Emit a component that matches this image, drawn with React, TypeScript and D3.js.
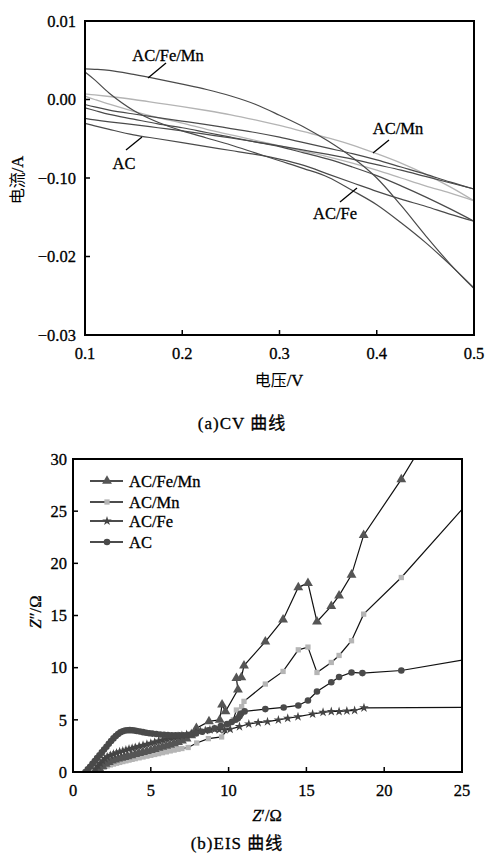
import React from "react";
import * as d3 from "d3";

// ---------- CV data (V, A) ----------
const cvV = [0.1, 0.11, 0.125, 0.15, 0.175, 0.2, 0.225, 0.25, 0.275, 0.3, 0.325, 0.35, 0.375, 0.4, 0.425, 0.45, 0.475, 0.5];
const feMnUpper = [3.9, 3.85, 3.72, 3.2, 2.6, 1.95, 1.27, 0.45, -0.6, -2.0, -3.5, -5.3, -7.4, -10.0, -13.5, -17.3, -20.9, -24.1];
const feMnLower = [3.5, 2.5, 0.8, -1.4, -2.9, -4.0, -4.9, -5.8, -6.8, -7.8, -8.8, -9.9, -11.6, -13.4, -15.7, -18.2, -21.0, -24.0];
const mnUpper = [0.72, 0.58, 0.38, 0.0, -0.45, -0.9, -1.4, -1.95, -2.6, -3.3, -4.1, -4.9, -5.8, -6.9, -8.1, -9.5, -11.1, -12.9];
const mnLower = [0.42, 0.0, -0.6, -1.5, -2.3, -3.0, -3.8, -4.5, -5.2, -5.9, -6.6, -7.3, -8.1, -9.0, -10.0, -11.0, -11.9, -12.9];
const acUpper = [-0.64, -0.95, -1.35, -1.85, -2.3, -2.75, -3.2, -3.7, -4.2, -4.8, -5.5, -6.2, -6.9, -7.7, -8.6, -9.5, -10.5, -11.4];
const acLower = [-2.4, -2.6, -2.85, -3.2, -3.6, -4.0, -4.45, -4.9, -5.4, -5.9, -6.45, -7.0, -7.6, -8.3, -9.0, -9.8, -10.6, -11.4];
const feUpper = [-1.06, -1.4, -1.9, -2.5, -3.1, -3.6, -4.2, -4.8, -5.4, -6.0, -6.8, -7.6, -8.6, -9.7, -11.0, -12.4, -13.9, -15.5];
const feLower = [-3.05, -3.35, -3.8, -4.5, -5.0, -5.5, -6.0, -6.5, -7.0, -7.6, -8.4, -9.5, -10.6, -11.7, -12.7, -13.6, -14.6, -15.5];

const cvXTicks = [0.1, 0.2, 0.3, 0.4, 0.5];
const cvXLabels = ["0.1", "0.2", "0.3", "0.4", "0.5"];
const cvYTicks = [0.01, 0.0, -0.01, -0.02, -0.03];
const cvYLabels = ["0.01", "0.00", "\u22120.10", "\u22120.02", "\u22120.03"];

// ---------- EIS data (Z', Z'') ----------
const eisFeMn: [number, number][] = [
  [1.5, 0], [1.7, 0.3], [1.9, 0.55], [2.1, 0.78], [2.3, 0.95], [2.5, 1.08], [2.7, 1.18], [2.9, 1.27], [3.1, 1.35],
  [3.3, 1.43], [3.5, 1.5], [3.75, 1.6], [4.0, 1.7], [4.25, 1.8], [4.5, 1.9], [4.75, 2.0], [5.0, 2.1], [5.25, 2.2],
  [5.5, 2.3], [5.75, 2.4], [6.0, 2.5], [6.25, 2.6], [6.5, 2.72], [6.75, 2.85], [7.0, 3.0], [7.3, 3.2], [7.6, 3.5],
  [7.93, 4.2], [8.74, 4.85], [9.43, 5.0], [9.58, 6.45], [9.8, 5.8], [10.6, 7.9], [10.5, 9.0], [10.82, 9.06],
  [10.99, 10.2], [12.36, 12.5], [13.5, 14.6], [14.48, 17.7], [15.1, 18.1], [15.68, 14.4], [16.6, 15.9],
  [17.1, 16.9], [17.9, 18.9], [18.68, 22.7], [21.1, 28.05],
];
const eisFeMnTail: [number, number] = [22.3, 31];

const eisMn: [number, number][] = [
  [1.6, 0.05], [1.8, 0.25], [2.0, 0.45], [2.2, 0.58], [2.4, 0.68], [2.6, 0.76], [2.8, 0.84], [3.0, 0.92], [3.2, 1.0],
  [3.4, 1.07], [3.6, 1.14], [3.8, 1.21], [4.0, 1.28], [4.25, 1.36], [4.5, 1.44], [4.75, 1.52], [5.0, 1.6],
  [5.25, 1.68], [5.5, 1.76], [5.75, 1.85], [6.0, 1.93], [6.25, 2.02], [6.5, 2.1], [6.75, 2.18], [7.0, 2.25],
  [7.4, 2.35], [7.95, 2.78], [8.7, 3.2], [9.55, 3.36], [10.0, 4.2], [10.3, 5.0], [10.5, 5.94], [10.84, 6.26],
  [10.99, 6.77], [12.36, 8.43], [13.5, 9.64], [14.48, 11.71], [15.1, 11.97], [15.68, 9.54], [16.6, 10.5],
  [17.1, 11.17], [17.9, 12.58], [18.68, 15.13], [21.1, 18.64],
];
const eisMnTail: [number, number] = [25.5, 26.0];

const eisFe: [number, number][] = [
  [1.3, 0.0], [1.45, 0.3], [1.6, 0.6], [1.75, 0.85], [1.9, 1.08], [2.05, 1.28], [2.2, 1.45], [2.4, 1.6], [2.6, 1.72],
  [2.8, 1.83], [3.0, 1.93], [3.2, 2.02], [3.4, 2.11], [3.6, 2.2], [3.8, 2.28], [4.0, 2.36], [4.25, 2.46],
  [4.5, 2.56], [4.75, 2.66], [5.0, 2.76], [5.25, 2.86], [5.5, 2.96], [5.75, 3.06], [6.0, 3.15], [6.25, 3.24],
  [6.5, 3.33], [6.75, 3.42], [7.0, 3.5], [7.3, 3.6], [7.6, 3.7], [7.9, 3.8], [8.2, 3.9], [8.5, 3.98], [8.8, 4.05],
  [9.1, 4.1], [9.4, 4.05], [9.75, 4.05], [10.1, 4.1], [10.7, 4.35], [11.3, 4.6], [11.9, 4.73], [12.5, 4.82],
  [13.2, 4.99], [13.8, 5.15], [14.46, 5.3], [15.4, 5.56], [16.07, 5.72], [16.6, 5.8], [17.1, 5.8], [17.6, 5.85],
  [18.1, 5.9], [18.7, 6.15],
];
const eisFeTail: [number, number] = [25.5, 6.19];

const eisAC: [number, number][] = [
  [0.8, 0.0], [0.95, 0.25], [1.1, 0.5], [1.25, 0.78], [1.4, 1.05], [1.55, 1.33], [1.7, 1.6], [1.85, 1.88],
  [2.0, 2.15], [2.15, 2.42], [2.3, 2.7], [2.45, 2.97], [2.6, 3.22], [2.75, 3.45], [2.9, 3.64], [3.05, 3.8],
  [3.2, 3.9], [3.35, 3.97], [3.5, 4.0], [3.65, 4.01], [3.8, 4.0], [3.95, 3.97], [4.1, 3.93], [4.3, 3.88],
  [4.5, 3.82], [4.7, 3.77], [4.9, 3.72], [5.1, 3.68], [5.35, 3.64], [5.6, 3.6], [5.85, 3.57], [6.1, 3.55],
  [6.35, 3.53], [6.6, 3.52], [6.85, 3.52], [7.1, 3.53], [7.35, 3.55], [7.6, 3.6], [7.9, 3.7], [8.3, 3.85],
  [8.7, 4.0], [9.1, 4.2], [9.5, 4.4], [9.9, 4.6], [10.2, 4.8], [10.45, 5.0], [10.6, 5.15], [10.7, 5.35],
  [10.75, 5.5], [10.8, 5.6], [11.03, 5.81], [12.36, 6.03], [13.54, 6.19], [14.48, 6.38], [15.1, 6.86],
  [15.68, 7.72], [16.6, 8.6], [17.1, 9.1], [17.9, 9.54], [18.6, 9.48], [21.1, 9.73],
];
const eisACTail: [number, number] = [25.5, 10.85];

const eisXTicks = [0, 5, 10, 15, 20, 25];
const eisYTicks = [0, 5, 10, 15, 20, 25, 30];
const legendNames = ["AC/Fe/Mn", "AC/Mn", "AC/Fe", "AC"];

const FS = 16.5;
const T: React.CSSProperties = { fontFamily: '"Liberation Serif"', fontSize: FS, stroke: "#000", strokeWidth: 0.3 };
const C: React.CSSProperties = { fontFamily: '"Noto Sans CJK SC"', fontSize: 16 };

export default function App() {
  const cx = d3.scaleLinear().domain([0.1, 0.5]).range([85, 474]);
  const cy = d3.scaleLinear().domain([-0.03, 0.01]).range([335, 21]);
  const cvLine = d3
    .line<[number, number]>()
    .x((d) => cx(d[0]))
    .y((d) => cy(d[1]))
    .curve(d3.curveCatmullRom);
  const branch = (arr: number[]) => cvLine(cvV.map((v, i) => [v, arr[i] * 0.001] as [number, number])) || "";
  const darkBranches = [feMnUpper, feMnLower, acUpper, acLower, feUpper, feLower];
  const lightBranches = [mnUpper, mnLower];

  const ex = d3.scaleLinear().domain([0, 25]).range([73, 462]);
  const ey = d3.scaleLinear().domain([0, 30]).range([772, 459]);
  const eLine = d3
    .line<[number, number]>()
    .x((d) => ex(d[0]))
    .y((d) => ey(d[1]));

  const series = [
    { name: "AC/Mn", data: eisMn, tail: eisMnTail, sym: d3.symbolSquare, size: 28, fill: "#b5b5b5" },
    { name: "AC/Fe/Mn", data: eisFeMn, tail: eisFeMnTail, sym: d3.symbolTriangle, size: 42, fill: "#555" },
    { name: "AC/Fe", data: eisFe, tail: eisFeTail, sym: d3.symbolStar, size: 28, fill: "#444" },
    { name: "AC", data: eisAC, tail: eisACTail, sym: d3.symbolCircle, size: 34, fill: "#4a4a4a" },
  ];
  const symOf = (name: string) => series.find((s) => s.name === name)!;

  return (
    <svg width={486} height={860} style={{ position: "absolute", left: 0, top: 0, background: "#fff" }}>
      <rect x={0} y={0} width={486} height={860} fill="#fff" />
      {/* ===== CV chart ===== */}
      <g>
        {lightBranches.map((b, i) => (
          <path key={"l" + i} d={branch(b)} fill="none" stroke="#b4b4b4" strokeWidth={1.3} />
        ))}
        {darkBranches.map((b, i) => (
          <path key={"d" + i} d={branch(b)} fill="none" stroke="#4a4a4a" strokeWidth={1.2} />
        ))}
        <rect x={85} y={21} width={389} height={314} fill="none" stroke="#000" strokeWidth={2} />
        {cvYTicks.map((t, i) => (
          <g key={"cy" + i}>
            <line x1={85} x2={90} y1={cy(t)} y2={cy(t)} stroke="#000" strokeWidth={1.5} />
            <text x={76} y={cy(t)} dy="0.35em" textAnchor="end" style={T}>
              {cvYLabels[i]}
            </text>
          </g>
        ))}
        {cvXTicks.map((t, i) => (
          <g key={"cx" + i}>
            <line x1={cx(t)} x2={cx(t)} y1={335} y2={330} stroke="#000" strokeWidth={1.5} />
            <text x={cx(t)} y={353} dy="0.35em" textAnchor="middle" style={T}>
              {cvXLabels[i]}
            </text>
          </g>
        ))}
        <text x={279} y={380} dy="0.35em" textAnchor="middle" style={C}>
          电压<tspan style={T}>/V</tspan>
        </text>
        <text transform="translate(17,180) rotate(-90)" dy="0.35em" textAnchor="middle" style={C}>
          电流<tspan style={T}>/A</tspan>
        </text>
        <text x={168} y={55} dy="0.35em" textAnchor="middle" style={T}>AC/Fe/Mn</text>
        <line x1={166} y1={63} x2={148} y2={78} stroke="#000" strokeWidth={1.3} />
        <text x={398} y={128} dy="0.35em" textAnchor="middle" style={T}>AC/Mn</text>
        <line x1={389} y1={140} x2={373} y2={153} stroke="#000" strokeWidth={1.3} />
        <text x={124} y={163} dy="0.35em" textAnchor="middle" style={T}>AC</text>
        <line x1={126} y1={150} x2={142} y2={137} stroke="#000" strokeWidth={1.3} />
        <text x={335} y={213} dy="0.35em" textAnchor="middle" style={T}>AC/Fe</text>
        <line x1={340} y1={202} x2={357} y2={188} stroke="#000" strokeWidth={1.3} />
        <text x={242} y={423} dy="0.35em" textAnchor="middle" style={{ ...T, fontSize: 17, letterSpacing: 1 }}>
          (a)CV <tspan style={{ ...C, fontSize: 17 }}>曲线</tspan>
        </text>
      </g>

      {/* ===== EIS chart ===== */}
      <defs>
        <clipPath id="eisClip">
          <rect x={73} y={459} width={389} height={313} />
        </clipPath>
      </defs>
      <g clipPath="url(#eisClip)">
        {series.map((s) => (
          <g key={s.name}>
            <path d={eLine([...s.data, s.tail]) || ""} fill="none" stroke="#111" strokeWidth={1.2} />
            {s.data.map((p, i) => (
              <path
                key={i}
                d={d3.symbol().type(s.sym).size(s.size)() || ""}
                transform={`translate(${ex(p[0])},${ey(p[1])})`}
                fill={s.fill}
              />
            ))}
          </g>
        ))}
      </g>
      <rect x={73} y={459} width={389} height={313} fill="none" stroke="#000" strokeWidth={2} />
      {eisYTicks.map((t) => (
        <g key={"ey" + t}>
          <line x1={73} x2={78} y1={ey(t)} y2={ey(t)} stroke="#000" strokeWidth={1.5} />
          <text x={67} y={ey(t)} dy="0.35em" textAnchor="end" style={T}>
            {t}
          </text>
        </g>
      ))}
      {eisXTicks.map((t) => (
        <g key={"ex" + t}>
          <line x1={ex(t)} x2={ex(t)} y1={772} y2={767} stroke="#000" strokeWidth={1.5} />
          <text x={ex(t)} y={790} dy="0.35em" textAnchor="middle" style={T}>
            {t}
          </text>
        </g>
      ))}
      <text x={267} y={815} dy="0.35em" textAnchor="middle" style={T}>
        <tspan fontStyle="italic">Z</tspan>′/Ω
      </text>
      <text transform="translate(35,612) rotate(-90)" dy="0.35em" textAnchor="middle" style={T}>
        <tspan fontStyle="italic">Z</tspan>″/Ω
      </text>
      {legendNames.map((n, i) => {
        const s = symOf(n);
        const yy = [481, 502, 521, 542][i];
        return (
          <g key={"lg" + n}>
            <line x1={90} x2={123} y1={yy} y2={yy} stroke="#111" strokeWidth={1.3} />
            <path d={d3.symbol().type(s.sym).size(s.size)() || ""} transform={`translate(107,${yy})`} fill={s.fill} />
            <text x={129} y={yy} dy="0.35em" style={T}>
              {n}
            </text>
          </g>
        );
      })}
      <text x={237} y={843} dy="0.35em" textAnchor="middle" style={{ ...T, fontSize: 17, letterSpacing: 1 }}>
        (b)EIS <tspan style={{ ...C, fontSize: 17 }}>曲线</tspan>
      </text>
    </svg>
  );
}
